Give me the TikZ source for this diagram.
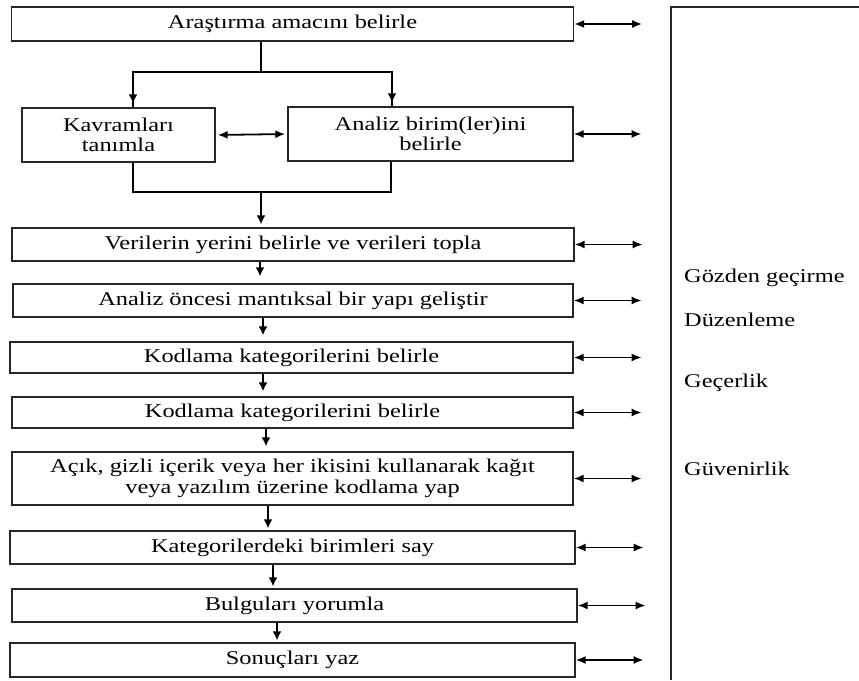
\documentclass[tikz,border=0pt]{standalone}
\usepackage{fontspec}
\setmainfont{Liberation Serif}[FakeStretch=1.25]
\usetikzlibrary{arrows.meta}

\begin{document}
\begin{tikzpicture}[x=1pt,y=-1pt]
   \tikzset{box/.style 2 args={draw=black!85, line width=1.3pt, minimum width=#1pt, minimum height=#2pt, inner sep=0pt, align=center, font=\fontsize{19.5}{20.5}\selectfont},
   side/.style={anchor=west, inner sep=0pt, font=\fontsize{19.5}{20.5}\selectfont},
   arr/.style={-{Latex[length=9pt,width=9pt]}, line width=2.2pt},
   branch/.style={line width=2.8pt},
   dbl/.style={{Latex[length=10pt,width=8pt]}-{Latex[length=10pt,width=8pt]}, line width=1.8pt}};
   \useasboundingbox (0,0) rectangle (859,680);
   \node[box={562}{34}] (0) at (292.5,24) {Araştırma amacını belirle};
\node[box={193}{54}] (1) at (118.5,135) {Kavramları\\tanımla};
\node[box={285}{54}] (2) at (430.5,134) {Analiz birim(ler)ini\\belirle};
\node[box={562}{33}] (3) at (293,244.5) {Verilerin yerini belirle ve verileri topla};
\node[box={560}{33}] (4) at (293,300.5) {Analiz öncesi mantıksal bir yapı geliştir};
\node[box={563}{31}] (5) at (291.5,357.5) {Kodlama kategorilerini belirle};
\node[box={561}{31}] (6) at (292.5,412.5) {Kodlama kategorilerini belirle};
\node[box={561}{53}] (7) at (292.5,478.5) {Açık, gizli içerik veya her ikisini kullanarak kağıt\\veya yazılım üzerine kodlama yap};
\node[box={565}{33}] (8) at (292.5,547.5) {Kategorilerdeki birimleri say};
\node[box={565}{33}] (9) at (294.5,605.5) {Bulguları yorumla};
\node[box={565}{34}] (10) at (292.5,660) {Sonuçları yaz};

\coordinate (s) at (261,72);
\coordinate (m) at (261,192);

\draw[branch] (0.south -| s) -- (s);
\draw[branch] (1.north -| 133,0) |- (s) -| (2.north -| 392,0);
\draw[arr, shorten >=4pt] (s -| 133,0) -- (1.north -| 133,0);
\draw[arr, shorten >=4pt] (s -| 392,0) -- (2.north -| 392,0);
\draw[branch] (1.south -| 133,0) |- (m) -| (2.south -| 391,0);
\draw[arr, shorten >=3pt] (m) -- (3.north -| m);
\draw[dbl, shorten <=2pt, shorten >=2pt] (1.east) -- (2.west);

\draw[arr, shorten >=7pt] (3.south -| 260,0) -- (4.north -| 260,0);
\draw[arr, shorten >=6pt] (4.south -| 263,0) -- (5.north -| 263,0);
\draw[arr, shorten >=5pt] (5.south -| 263,0) -- (6.north -| 263,0);
\draw[arr, shorten >=5pt] (6.south -| 266,0) -- (7.north -| 266,0);
\draw[arr, shorten >=2pt] (7.south -| 268,0) -- (8.north -| 268,0);
\draw[arr, shorten >=2pt] (8.south -| 273,0) -- (9.north -| 273,0);
\draw[arr, shorten >=2pt] (9.south -| 277,0) -- (10.north -| 277,0);

\foreach \n in {0,2,3,4,5,6,7,8,9,10}
  \draw[dbl] (\n.east) -- ++(68,0);

\draw[line width=1.3pt, draw=black!85] (671,680) -- (671,7) -- (859,7);
\node[side] (g1) at (684,278) {Gözden geçirme};
\node[side] (g2) at (684,320) {Düzenleme};
\node[side] (g3) at (684,383) {Geçerlik};
\node[side] (g4) at (684,469) {Güvenirlik};
   
\end{tikzpicture}
\end{document}
